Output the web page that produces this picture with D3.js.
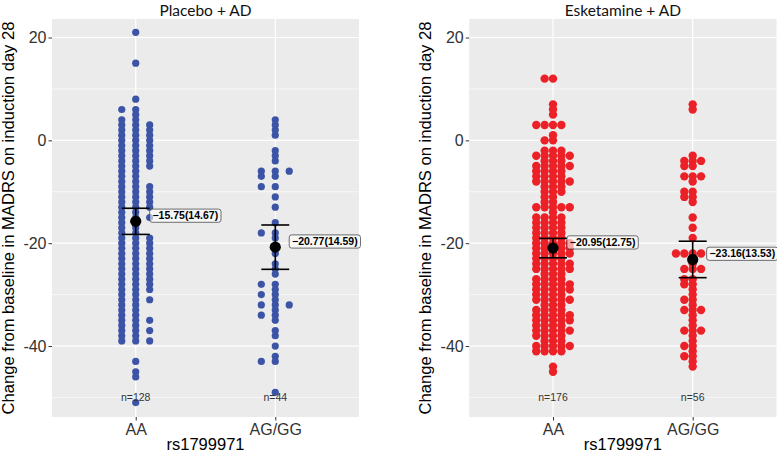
<!DOCTYPE html>
<html>
<head>
<meta charset="utf-8">
<script src="https://cdn.jsdelivr.net/npm/d3@7"></script>
<style>
  body { margin: 0; background: #fff; }
  svg { display: block; }
</style>
</head>
<body>
<main></main>
<script>
// values (change in MADRS, one entry per patient)
let genotypes = ["AA", "AG/GG"]
let panelTitles = ["Placebo + AD", "Esketamine + AD"]

let placeboAA = [
  21, 15, 8, 6, 6, 5, 4, 4,
  3, 3, 3, 2, 2, 2, 1, 1, 1, 0, 0, 0, -1, -1, -1, -2, -2, -2,
  -3, -3, -3, -4, -4, -4, -5, -5, -5, -6, -6,
  -7, -7, -8, -8, -9, -9, -9, -10, -10, -10, -11, -11, -11, -12, -12, -12, -13, -13, -13,
  -14, -14, -15, -15, -15, -16, -16, -17, -17, -18, -18,
  -19, -19, -19, -20, -20, -20, -21, -21, -21, -22, -22, -22, -23, -23, -23, -24, -24, -24,
  -25, -25, -25, -26, -26, -26, -27, -27, -27, -28, -28, -28, -29, -29, -29,
  -30, -30, -31, -31, -31, -32, -32, -33, -33, -34, -34, -35, -35, -35, -36, -36,
  -37, -37, -37, -38, -38, -39, -39, -39, -43, -45, -46, -51
]
let placeboAGGG = [
  4, 3, 2, 1, -2, -3, -4, -6, -6, -6, -7, -7, -9, -9, -11, -13, -16,
  -18, -18, -19, -22, -24, -25, -26, -28, -28, -29, -30, -30, -31,
  -32, -32, -32, -33, -34, -34, -35, -37, -38, -40, -42, -43, -43, -49
]
let esketamineAA = [
  12, 12, 7, 6, 5, 3, 3, 3, 3, 1, 0, 0,
  -2, -2, -2, -3, -3, -3, -3, -3, -4, -4, -4, -5, -5, -5, -5, -5,
  -6, -6, -6, -6, -7, -7, -7, -7, -8, -8, -8, -8, -8, -9, -9, -9,
  -10, -10, -10, -11, -11, -12, -12, -13, -13, -13, -13, -13, -14,
  -15, -15, -15, -15, -16, -16, -16, -16, -17, -17, -17, -17, -18, -18, -18, -18,
  -19, -19, -19, -19, -20, -20, -20, -20, -20, -21, -21, -21, -21, -21,
  -22, -22, -22, -22, -22, -23, -23, -23, -23, -24, -24, -24, -24, -24,
  -25, -25, -25, -25, -25, -26, -26, -26, -27, -27, -27, -27,
  -28, -28, -28, -28, -28, -29, -29, -29, -29, -29, -30, -30, -30, -30,
  -31, -31, -31, -31, -31, -32, -32, -32, -33, -33, -33, -33,
  -34, -34, -34, -34, -34, -35, -35, -35, -35, -35, -36, -36, -36, -36,
  -37, -37, -37, -37, -37, -38, -38, -38, -38, -39, -39, -39,
  -40, -40, -40, -40, -40, -41, -41, -41, -41, -44, -45
]
let esketamineAGGG = [
  7, 6, -3, -4, -4, -4, -5, -5, -7, -7, -7, -8,
  -10, -10, -11, -11, -12, -15, -17, -19,
  -22, -22, -22, -22, -23, -24, -25, -25, -25, -27, -27, -28, -28,
  -29, -30, -31, -31, -32, -33, -33, -33, -34, -35, -36,
  -37, -37, -37, -38, -39, -40, -40, -41, -42, -42, -43, -44
]

// summary printed on the chart: mean, SD, n per panel / genotype
let groupMeans = [[-15.75, -20.77], [-20.95, -23.16]]
let groupSDs = [[14.67, 14.59], [12.75, 13.53]]
let groupN = [[128, 44], [176, 56]]

let yTicks = [-40, -20, 0, 20]
let yMinorTicks = [-50, -30, -10, 10]

//create svg
let svg = d3.select('main')
    .append('svg')
    .attr('width', 777)
    .attr('height', 452)
    .style('background', '#fff')

let panelTop = 19, panelBottom = 417
let y = d3.scaleLinear().domain([-53.8, 23.6]).range([panelBottom, panelTop])

let panels = [
  {title: panelTitles[0], groups: [placeboAA, placeboAGGG], color: '#3B54A5', left: 52, right: 359, dotR: 3.6, stack: 0.1},
  {title: panelTitles[1], groups: [esketamineAA, esketamineAGGG], color: '#EC2027', left: 469.2, right: 776.5, dotR: 4.2, stack: 0.06}
]

let fontMain = "'Liberation Sans', Arial, sans-serif"

function drawPanel(p, i) {
  let x = d3.scalePoint().domain(genotypes).range([p.left, p.right]).padding(0.6)
  let step = x.step()
  let g = svg.append('g')

  // grey panel + white grid
  g.append('rect')
      .attr('x', p.left)
      .attr('y', panelTop)
      .attr('width', p.right - p.left)
      .attr('height', panelBottom - panelTop)
      .style('fill', '#EBEBEB')
  g.selectAll('line.minor').data(yMinorTicks).join('line')
      .attr('x1', p.left).attr('x2', p.right)
      .attr('y1', d => y(d)).attr('y2', d => y(d))
      .style('stroke', '#fff').style('stroke-width', 0.6)
  g.selectAll('line.major').data(yTicks).join('line')
      .attr('x1', p.left).attr('x2', p.right)
      .attr('y1', d => y(d)).attr('y2', d => y(d))
      .style('stroke', '#fff').style('stroke-width', 1.2)
  g.selectAll('line.vmajor').data(genotypes).join('line')
      .attr('x1', d => x(d)).attr('x2', d => x(d))
      .attr('y1', panelTop).attr('y2', panelBottom)
      .style('stroke', '#fff').style('stroke-width', 1.2)

  // axes
  let yAxis = g.append('g')
      .attr('transform', `translate(${p.left},0)`)
      .call(d3.axisLeft(y).tickValues(yTicks).tickSize(3.5).tickPadding(2).tickFormat(d => String(d)))
  let xAxis = g.append('g')
      .attr('transform', `translate(0,${panelBottom})`)
      .call(d3.axisBottom(x).tickSize(3.5).tickPadding(3))
  for (let ax of [yAxis, xAxis]) {
    ax.select('.domain').remove()
    ax.selectAll('line').style('stroke', '#333')
    ax.selectAll('text')
        .style('font-family', fontMain)
        .style('font-size', '16px')
        .style('fill', '#333')
  }

  // dot stacks, one dot per patient, stacked sideways at equal values
  let dots = []
  p.groups.forEach((vals, gi) => {
    d3.groups(vals, v => v).forEach(([v, arr]) => {
      let n = arr.length
      arr.forEach((_, k) => dots.push({g: genotypes[gi], v: v, off: k - Math.ceil((n - 1) / 2)}))
    })
  })
  g.selectAll('circle.dot').data(dots).join('circle')
      .attr('cx', d => x(d.g) + d.off * p.stack * step)
      .attr('cy', d => y(d.v))
      .attr('r', p.dotR)
      .style('fill', p.color)

  // mean with 95% CI
  let stats = genotypes.map((gn, gi) => {
    let m = groupMeans[i][gi], s = groupSDs[i][gi], n = groupN[i][gi]
    let ci = 1.96 * s / Math.sqrt(n)
    return {g: gn, mean: m, sd: s, n: n, lo: m - ci, hi: m + ci}
  })
  let half = 0.1 * step
  g.selectAll('line.ebar').data(stats).join('line')
      .attr('x1', d => x(d.g)).attr('x2', d => x(d.g))
      .attr('y1', d => y(d.hi)).attr('y2', d => y(d.lo))
      .style('stroke', '#000').style('stroke-width', 1.6)
  g.selectAll('line.capHi').data(stats).join('line')
      .attr('x1', d => x(d.g) - half).attr('x2', d => x(d.g) + half)
      .attr('y1', d => y(d.hi)).attr('y2', d => y(d.hi))
      .style('stroke', '#000').style('stroke-width', 1.6)
  g.selectAll('line.capLo').data(stats).join('line')
      .attr('x1', d => x(d.g) - half).attr('x2', d => x(d.g) + half)
      .attr('y1', d => y(d.lo)).attr('y2', d => y(d.lo))
      .style('stroke', '#000').style('stroke-width', 1.6)
  g.selectAll('circle.mean').data(stats).join('circle')
      .attr('cx', d => x(d.g))
      .attr('cy', d => y(d.mean))
      .attr('r', 5.6)
      .style('fill', '#000')

  // mean(SD) labels
  let fmt = d3.format('.2f')
  stats.forEach(d => {
    let lx = x(d.g) + half
    let ly = y(d.mean + 1.1)
    let lab = g.append('g')
    let box = lab.append('rect')
    let t = lab.append('text')
        .attr('x', lx + 2.8)
        .attr('y', ly)
        .attr('dy', '0.35em')
        .style('font-family', fontMain)
        .style('font-size', '10.5px')
        .style('font-weight', 'bold')
        .style('fill', '#000')
        .text(`${fmt(d.mean)}(${fmt(d.sd)})`)
    let w = t.node().getComputedTextLength()
    box.attr('x', lx)
        .attr('y', ly - 6.6)
        .attr('width', w + 5.6)
        .attr('height', 13.2)
        .attr('rx', 2.5)
        .style('fill', '#fff')
        .style('fill-opacity', 0.6)
        .style('stroke', '#333')
        .style('stroke-width', 0.7)
  })

  // n= labels
  g.selectAll('text.nlab').data(stats).join('text')
      .attr('x', d => x(d.g))
      .attr('y', y(-50))
      .attr('dy', '0.35em')
      .attr('text-anchor', 'middle')
      .style('font-family', fontMain)
      .style('font-size', '10.5px')
      .style('fill', '#333')
      .text(d => 'n=' + d.n)

  // titles
  g.append('text')
      .attr('x', (p.left + p.right) / 2)
      .attr('y', 15.5)
      .attr('text-anchor', 'middle')
      .style('font-family', "Lato, 'Open Sans', sans-serif")
      .style('font-size', '15.5px')
      .style('fill', '#111')
      .text(p.title)
  g.append('text')
      .attr('transform', `translate(${p.left - 38},${(panelTop + panelBottom) / 2}) rotate(-90)`)
      .attr('text-anchor', 'middle')
      .style('font-family', fontMain)
      .style('font-size', '16.6px')
      .style('fill', '#000')
      .text('Change from baseline in MADRS on induction day 28')
  g.append('text')
      .attr('x', (p.left + p.right) / 2)
      .attr('y', 450)
      .attr('text-anchor', 'middle')
      .style('font-family', fontMain)
      .style('font-size', '16.5px')
      .style('fill', '#000')
      .text('rs1799971')
}

panels.forEach(drawPanel)
</script>
</body>
</html>
